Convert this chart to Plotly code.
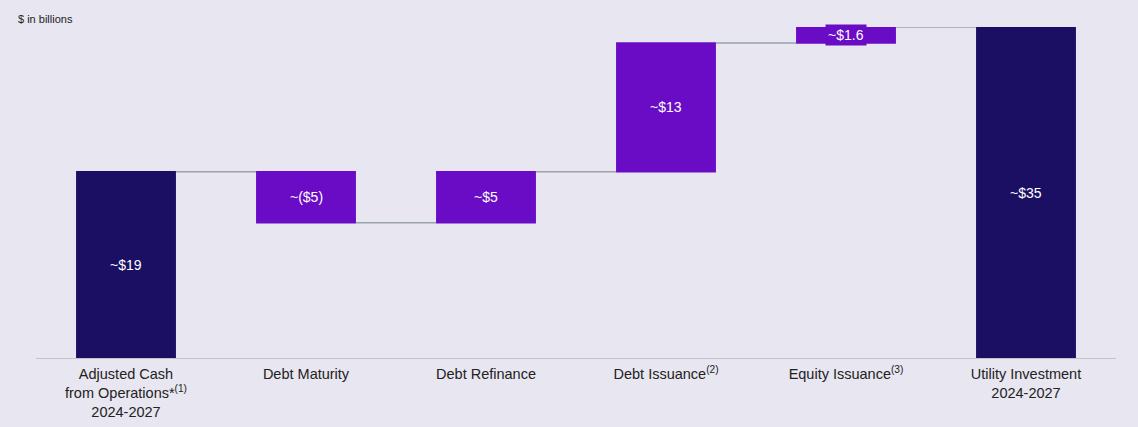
import plotly.graph_objects as go

categories = [
    "Adjusted Cash<br>from Operations*<sup>(1)</sup><br>2024-2027",
    "Debt Maturity",
    "Debt Refinance",
    "Debt Issuance<sup>(2)</sup>",
    "Equity Issuance<sup>(3)</sup>",
    "Utility Investment<br>2024-2027",
]
values = [19.7, -5.4, 5.4, 13.6, 1.7, 35.0]
measures = ["absolute", "relative", "relative", "relative", "relative", "total"]
labels = ["~$19", "~($5)", "~$5", "~$13", "~$1.6", "~$35"]

PURPLE = "#6a0cc6"
NAVY = "#1b0f63"
BG = "#e8e6f0"

fig = go.Figure()
fig.add_trace(go.Waterfall(
    x=categories, y=values, measure=measures,
    increasing=dict(marker=dict(color=PURPLE)),
    decreasing=dict(marker=dict(color=PURPLE)),
    totals=dict(marker=dict(color=NAVY)),
    connector=dict(line=dict(color="#9aa2ab", width=1.5), mode="between"),
    textposition="none",
    width=0.555,
    hoverinfo="x+y",
))

# label positions at bar midpoints computed from the data
running = 0.0
for cat, v, m, lab in zip(categories, values, measures, labels):
    if m == "absolute":
        lo, hi = 0, v
        running = v
    elif m == "total":
        lo, hi = 0, running
    else:
        lo, hi = running, running + v
        running += v
    mid = (lo + hi) / 2
    small = abs(hi - lo) < 3
    fig.add_annotation(
        x=cat, y=mid, text=lab, showarrow=False,
        font=dict(color="white", size=14, family="Liberation Sans, Arial"),
        bgcolor=PURPLE if small else None,
        borderpad=2 if small else 0,
    )

fig.add_annotation(
    xref="paper", yref="paper", x=-0.0185, y=1.0, yanchor="bottom", xanchor="left",
    text="$ in billions", showarrow=False, yshift=0,
    font=dict(size=11, color="#222222", family="Liberation Sans, Arial"),
)

fig.update_layout(
    width=1138, height=427,
    margin=dict(l=36, r=22, t=27, b=69),
    paper_bgcolor=BG, plot_bgcolor=BG,
    showlegend=False,
    font=dict(family="Liberation Sans, Arial", size=14, color="#222222"),
    xaxis=dict(showline=True, linecolor="#c2c2cc", linewidth=1, showgrid=False,
               ticks="", ticklabelstandoff=3, automargin=False,
               tickfont=dict(size=14.5, color="#222222"), fixedrange=True),
    yaxis=dict(range=[0, 35], visible=False, showgrid=False, zeroline=False),
)

fig.write_html("out.html")
